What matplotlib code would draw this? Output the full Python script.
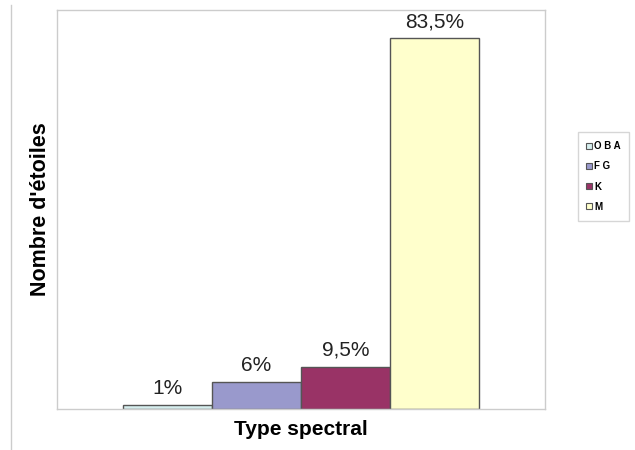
import matplotlib.pyplot as plt
from matplotlib.lines import Line2D

plt.rcParams['font.family'] = ['Liberation Sans', 'DejaVu Sans']

# spectral classes and share of stars (%)
types = ["O B A", "F G", "K", "M"]
shares = [1, 6, 9.5, 83.5]
labels = ["1%", "6%", "9,5%", "83,5%"]
colors = ["#d6eeee", "#9999cc", "#993366", "#ffffcc"]

fig = plt.figure(figsize=(6.35, 4.5), dpi=100)
ax = fig.add_axes([57 / 635, 41 / 450, 488 / 635, 399 / 450])

x = list(range(len(types)))
bars = ax.bar(x, shares, width=1.0, color=colors, edgecolor="#555555", linewidth=1)

for rect, txt in zip(bars, labels):
    ax.annotate(txt, (rect.get_x() + rect.get_width() / 2, rect.get_height()),
                xytext=(0, 5), textcoords="offset points",
                ha="center", va="bottom", fontsize=15, color="#222222")

ax.set_xlim(-0.5 - 0.742, 3.5 + 0.742)
ax.set_ylim(0, 89.8)
ax.set_xticks([])
ax.set_yticks([])
for side in ax.spines.values():
    side.set_color("#cccccc")
    side.set_linewidth(1)

ax.set_xlabel("Type spectral", fontsize=15, fontweight="bold", labelpad=8)
ax.set_ylabel("Nombre d'étoiles", fontsize=15.5, fontweight="bold", labelpad=4)

# legend with small square markers
handles = [Line2D([0], [0], marker="s", linestyle="", markersize=4,
                  markerfacecolor=c, markeredgecolor="#555555", markeredgewidth=0.8)
           for c in colors]
leg = fig.legend(handles, types, loc="center", bbox_to_anchor=(603.5 / 635, 1 - 176.5 / 450),
                 fontsize=7, frameon=True, fancybox=False, handlelength=0.6,
                 handletextpad=0.2, labelspacing=1.05, borderpad=0.9,
                 prop={"size": 7, "weight": "bold"})
leg.get_frame().set_edgecolor("#cccccc")
leg.get_frame().set_linewidth(1)

# thin rule on the left side of the page
fig.add_artist(Line2D([11 / 635, 11 / 635], [0, 1 - 5 / 450], color="#cccccc", linewidth=1))

fig.savefig("out.png", dpi=100)
